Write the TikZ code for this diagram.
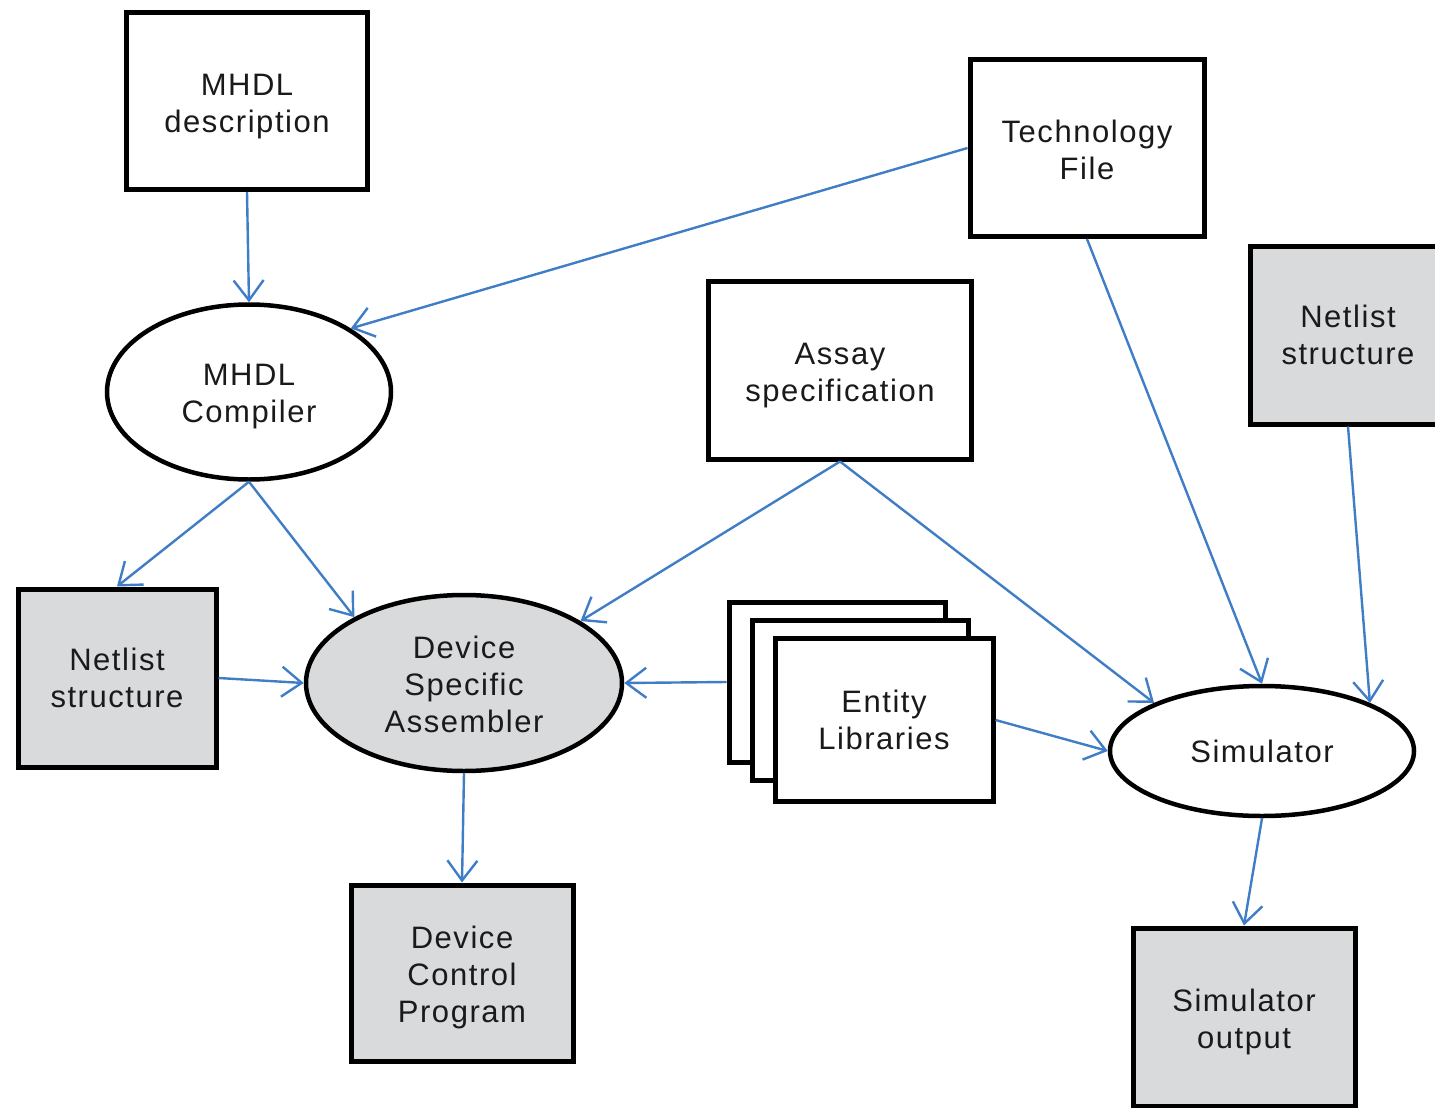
\documentclass[tikz,border=0pt]{standalone}
\usepackage{fontspec}
\setmainfont[LetterSpace=5]{Liberation Sans}
\usetikzlibrary{shapes.geometric,arrows.meta}
\definecolor{boxgray}{HTML}{D9DADC}
\definecolor{arrblue}{HTML}{3F7DC6}
\definecolor{txtcol}{HTML}{1A1A1A}
\tikzset{
  lbl/.style={inner sep=0pt,align=center,text=txtcol,font=\fontsize{31}{37}\selectfont},
  box/.style={draw=black,line width=5pt,fill=white,rectangle,inner sep=0pt},
  graybox/.style={box,fill=boxgray},
  ell/.style={draw=black,line width=4.5pt,fill=white,ellipse,inner sep=0pt},
  flow/.style={draw=arrblue,line width=2.4pt,-{Straight Barb[length=20pt,width=30pt,line width=2.4pt]}},
}
\begin{document}
\begin{tikzpicture}[x=1pt,y=-1pt]
\useasboundingbox (0,0) rectangle (1435,1108);
\clip (0,0) rectangle (1435,1108);
% nodes
\node[box,minimum width=241pt,minimum height=177pt,label={[lbl,yshift=-6pt]center:MHDL\\description}] (mdesc) at (247,101) {};
\node[box,minimum width=234pt,minimum height=177pt,label={[lbl,yshift=-2pt]center:Technology\\File}] (tech) at (1087,148) {};
\node[ell,minimum width=284pt,minimum height=175pt,label={[lbl,yshift=-5pt]center:MHDL\\Compiler}] (comp) at (249,392) {};
\node[box,minimum width=263pt,minimum height=178pt,label={[lbl,yshift=-6pt]center:Assay\\specification}] (assay) at (840,370) {};
\node[graybox,minimum width=196pt,minimum height=178pt,label={[lbl,yshift=0pt]center:Netlist\\structure}] (netR) at (1348,335) {};
\node[graybox,minimum width=198pt,minimum height=178pt,label={[lbl,yshift=0pt]center:Netlist\\structure}] (netL) at (117,678) {};
\node[ell,fill=boxgray,minimum width=316pt,minimum height=176pt,label={[lbl,yshift=-1pt]center:Device\\Specific\\Assembler}] (asm) at (464,683) {};
\node[box,minimum width=216pt,minimum height=160pt] (lib1) at (837,682) {};
\node[box,minimum width=216pt,minimum height=160pt] (lib2) at (860,700) {};
\node[box,minimum width=218pt,minimum height=163pt,label={[lbl,yshift=0pt]center:Entity\\Libraries}] (lib) at (884,720) {};
\node[ell,minimum width=304pt,minimum height=130pt,label={[lbl]center:Simulator}] (sim) at (1262,751) {};
\node[graybox,minimum width=222pt,minimum height=176pt,label={[lbl,yshift=-4pt]center:Device\\Control\\Program}] (dcp) at (462,973) {};
\node[graybox,minimum width=222pt,minimum height=178pt,label={[lbl,yshift=-5pt]center:Simulator\\output}] (out) at (1244,1017) {};
% connectors
\draw[flow] (mdesc.south) -- (comp.north);
\draw[flow] (tech.west) -- (comp.32);
\draw[flow] (comp.south) -- (netL.north);
\draw[flow] (comp.south) -- (asm.149);
\draw[flow] (assay.south) -- (asm.28);
\draw[flow] (assay.south) -- (sim.156);
\draw[flow] (tech.south) -- (sim.north);
\draw[flow] (netR.south) -- (sim.24);
\draw[flow] (netL.east) -- (asm.west);
\draw[flow] (lib1.west) -- (asm.east);
\draw[flow] (lib.east) -- (sim.west);
\draw[flow] (asm.south) -- (dcp.north);
\draw[flow] (sim.south) -- (out.north);
\end{tikzpicture}
\end{document}
